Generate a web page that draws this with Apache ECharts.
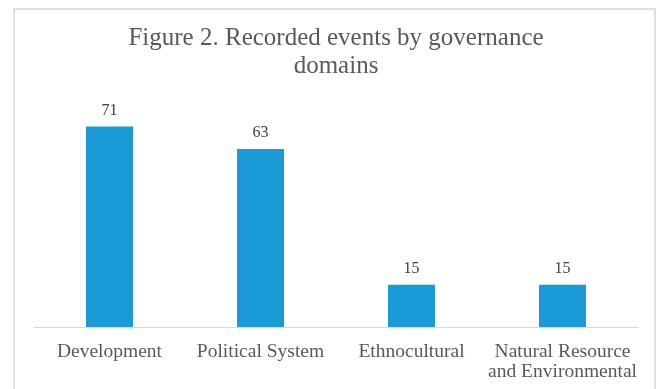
<!DOCTYPE html>
<html>
<head>
<meta charset="utf-8">
<script src="https://cdn.jsdelivr.net/npm/echarts@6/dist/echarts.min.js"></script>
<style>
html,body{margin:0;padding:0;background:#fff;}
#chart{width:658px;height:389px;}
</style>
</head>
<body>
<div id="chart"></div>
<script>
const categories = ['Development', 'Political System', 'Ethnocultural', 'Natural Resource\nand Environmental'];
const values = [71, 63, 15, 15];
const titleText = 'Figure 2. Recorded events by governance\ndomains';

const chart = echarts.init(document.getElementById('chart'), null, {renderer: 'canvas'});
chart.setOption({
  animation: false,
  backgroundColor: '#ffffff',
  graphic: [
    {
      type: 'rect',
      shape: {x: 14, y: 9, width: 641, height: 420},
      style: {fill: 'none', stroke: '#e0e0e0', lineWidth: 2},
      silent: true
    },
    {
      type: 'text',
      x: 336,
      y: 24,
      style: {
        text: titleText,
        align: 'center',
        verticalAlign: 'top',
        fontFamily: 'Liberation Serif',
        fontSize: 25,
        lineHeight: 28,
        fill: '#595959'
      }
    }
  ],
  grid: {left: 34, right: 20, top: 101, bottom: 62},
  xAxis: {
    type: 'category',
    data: categories,
    axisLine: {lineStyle: {color: '#d9d9d9', width: 1}},
    axisTick: {show: false},
    axisLabel: {
      interval: 0,
      margin: 15,
      fontFamily: 'Liberation Serif',
      fontSize: 19.5,
      lineHeight: 20,
      color: '#595959'
    }
  },
  yAxis: {
    type: 'value',
    min: 0,
    max: 80,
    show: false,
    splitLine: {show: false}
  },
  series: [{
    type: 'bar',
    data: values,
    barWidth: 47,
    itemStyle: {color: '#1a9ad6'},
    label: {
      show: true,
      position: 'top',
      distance: 8,
      fontFamily: 'Liberation Serif',
      fontSize: 16,
      color: '#404040'
    }
  }]
});
</script>
</body>
</html>
